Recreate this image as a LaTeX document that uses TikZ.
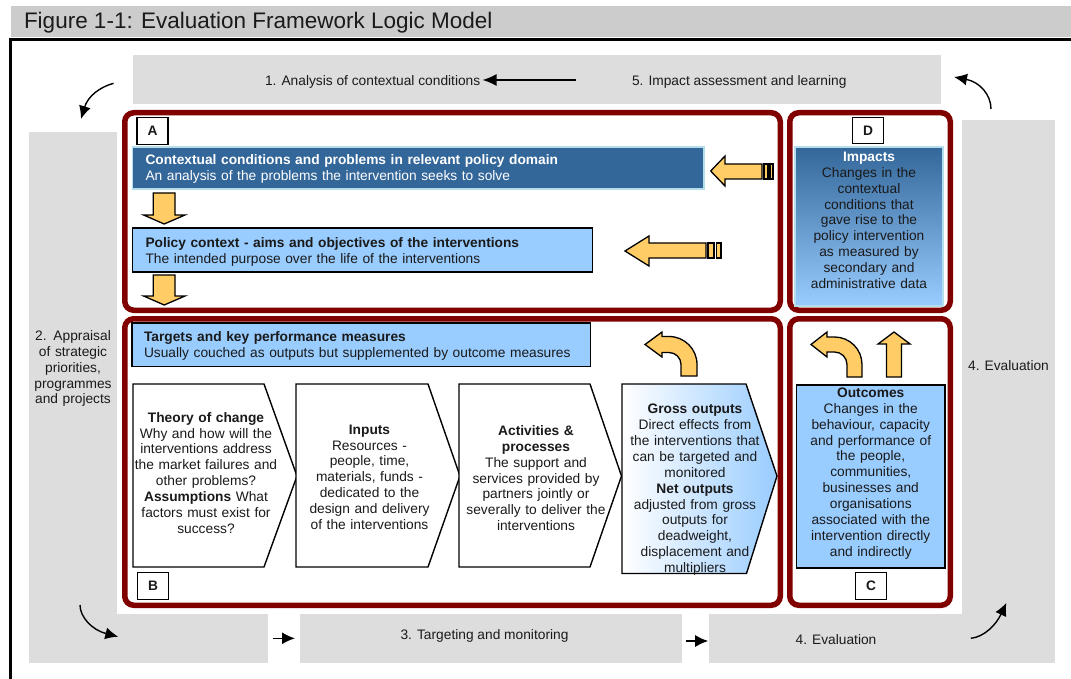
\documentclass[tikz,border=0pt]{standalone}
\usepackage{fontspec}
\setmainfont{Liberation Sans}
\usetikzlibrary{arrows.meta}
\definecolor{titlegray}{HTML}{CCCCCC}
\definecolor{bandgray}{HTML}{DDDDDD}
\definecolor{framered}{HTML}{800000}
\definecolor{deepblue}{HTML}{336699}
\definecolor{paleblue}{HTML}{99CCFF}
\definecolor{arrowgold}{HTML}{FFCC66}
\definecolor{edgecyan}{HTML}{B4DEEA}
\definecolor{inktext}{HTML}{1A1A1A}
\begin{document}
\begin{tikzpicture}[x=1pt,y=-1pt,
  every node/.style={inner sep=0pt,outer sep=0pt,text=inktext},
  body/.style={font=\fontsize{13.75}{15.85}\selectfont},
  band/.style={fill=bandgray,draw=none},
  redframe/.style={draw=framered,line width=5.5pt,rounded corners=9pt},
  tag/.style={draw=black,line width=1.4pt,fill=white,minimum width=31pt,minimum height=26.5pt,font=\fontsize{13.75}{15.85}\selectfont\bfseries},
  lightbox/.style={draw=black,line width=1.4pt,fill=paleblue,anchor=north west},
  chevron/.style={draw=black,line width=1.4pt,fill=white,line join=miter},
  goldarrow/.style={draw=black,line width=1.3pt,fill=arrowgold,line join=miter},
  blocktext/.style={body,text width=175pt,align=center,anchor=base},
  linetext/.style={body,text width=560pt,align=left,anchor=base west},
  flow/.style={draw=black,line width=1.4pt,-{Latex[length=13pt,width=12pt]}},
]
\useasboundingbox (0,0) rectangle (1071,679);
\fill[white] (0,0) rectangle (1071,679);

% heading strip and outer frame
\fill[titlegray] (11,6) rectangle (1071,37);
\node[anchor=base west,font=\fontsize{22.5}{27}\selectfont] (title) at (24,28.8) {Figure 1-1: Evaluation Framework Logic Model};
\draw[line width=2.8pt] (10.7,679) -- (10.7,39.7) -- (1071,39.7);

% grey cycle bands
\fill[band] (132.5,55) rectangle (941,104);
\fill[band] (29,132) rectangle (117,663);
\fill[band] (29,613.5) rectangle (268,663);
\fill[band] (300,613.5) rectangle (681.7,663);
\fill[band] (709.4,613.5) rectangle (1055,663);
\fill[band] (962,120) rectangle (1055,663);

\node[body,anchor=base west] (analysis) at (265,86) {1. Analysis of contextual conditions};
\node[body,anchor=base west] (impact) at (632,86) {5. Impact assessment and learning};
\node[blocktext,text width=100pt] (appraisal) at (73,340.5) {2. Appraisal\\of strategic\\priorities,\\programmes\\and projects};
\node[body,anchor=base] (evalright) at (1008.5,370.5) {4. Evaluation};
\node[body,anchor=base] (targeting) at (484.5,639.5) {3. Targeting and monitoring};
\node[body,anchor=base] (evalbottom) at (836,644) {4. Evaluation};

% red frames A, D, B, C
\draw[redframe] (124.75,112.75) rectangle (780.25,310.25);
\draw[redframe] (789.75,112.75) rectangle (950.25,310.25);
\draw[redframe] (124.75,318.75) rectangle (780.25,605.25);
\draw[redframe] (789.75,318.75) rectangle (950.25,605.25);

% panel A
\node[draw=edgecyan,line width=1.6pt,fill=deepblue,anchor=north west,minimum width=571.5pt,minimum height=42pt] (ctxbox) at (132.5,147) {};
\node[linetext,text=white] (ctxtext) at (145.5,164.5) {\textbf{Contextual conditions and problems in relevant policy domain}\\An analysis of the problems the intervention seeks to solve};
\node[lightbox,minimum width=460pt,minimum height=44pt] (polbox) at (132.5,228) {};
\node[linetext] (poltext) at (145.5,247.2) {\textbf{Policy context - aims and objectives of the interventions}\\The intended purpose over the life of the interventions};
\node[tag] (tagA) at (152.5,131) {A};

% downward block arrows
\draw[goldarrow] (153.2,193) -- (175,193) -- (175,215) -- (185,215) -- (164.2,224) -- (143.6,215) -- (153.2,215) -- cycle;
\draw[goldarrow] (153.2,275) -- (175,275) -- (175,296) -- (185,296) -- (164.2,305) -- (143.6,296) -- (153.2,296) -- cycle;

% striped arrows pointing left
\draw[goldarrow] (710.7,171) -- (725,156) -- (725,164) -- (762,164) -- (762,179) -- (725,179) -- (725,186) -- cycle;
\draw[goldarrow] (764,164) rectangle (768,179);
\draw[goldarrow] (770,164) rectangle (773,179);
\draw[goldarrow] (625,251) -- (649,236) -- (649,243) -- (706,243) -- (706,258) -- (649,258) -- (649,266) -- cycle;
\draw[goldarrow] (708,243) rectangle (714,258);
\draw[goldarrow] (716.5,243) rectangle (721,258);

% panel D
\node[draw=edgecyan,line width=1.6pt,top color=deepblue,bottom color=paleblue,anchor=north west,minimum width=148pt,minimum height=159pt] (impbox) at (795,147) {};
\node[blocktext] (imptext) at (869,161.5) {\textcolor{white}{\textbf{Impacts}}\\Changes in the\\contextual\\conditions that\\gave rise to the\\policy intervention\\as measured by\\secondary and\\administrative data};
\node[tag] (tagD) at (868,130.5) {D};

% panel B
\node[lightbox,minimum width=458.6pt,minimum height=43.5pt] (tgtbox) at (132,323) {};
\node[linetext] (tgttext) at (144,341.5) {\textbf{Targets and key performance measures}\\Usually couched as outputs but supplemented by outcome measures};

\draw[chevron] (133,384) -- (264,384) -- (297,476) -- (264,567) -- (133,567) -- cycle;
\draw[chevron] (296,384) -- (428,384) -- (460,476) -- (428,567) -- (296,567) -- cycle;
\draw[chevron] (459,384) -- (590,384) -- (621.5,476) -- (590,567) -- (459,567) -- cycle;
\draw[chevron,left color=white,right color=paleblue] (622,384) -- (746,384) -- (777,476) -- (746.5,573.5) -- (622,573.5) -- cycle;

\node[blocktext] (theory) at (206,422.2) {\textbf{Theory of change}\\Why and how will the\\interventions address\\the market failures and\\other problems?\\\textbf{Assumptions} What\\factors must exist for\\success?};
\node[blocktext] (inputs) at (369.5,434.2) {\textbf{Inputs}\\Resources -\\people, time,\\materials, funds -\\dedicated to the\\design and delivery\\of the interventions};
\node[blocktext] (activities) at (536,435.5) {\textbf{Activities \&}\\\textbf{processes}\\The support and\\services provided by\\partners jointly or\\severally to deliver the\\interventions};
\node[blocktext] (outputs) at (695,413.9) {\textbf{Gross outputs}\\Direct effects from\\the interventions that\\can be targeted and\\monitored\\\textbf{Net outputs}\\adjusted from gross\\outputs for\\deadweight,\\displacement and\\multipliers};

\draw[goldarrow] (681,376) -- (681,364.5) .. controls (681,357.9) and (675.6,352.5) .. (669,352.5) -- (662,352.5) -- (662,357) -- (645,344.5) -- (662,332) -- (662,336.5) -- (669,336.5) .. controls (684.5,336.5) and (697,349) .. (697,364.5) -- (697,376) -- cycle;
\node[tag] (tagB) at (153,586) {B};

% panel C
\draw[goldarrow] (847,377) -- (847,364.5) .. controls (847,357.6) and (841.4,352) .. (834.5,352) -- (827,352) -- (827,357) -- (811,344.5) -- (827,332) -- (827,337) -- (834.5,337) .. controls (849.7,337) and (862,349.3) .. (862,364.5) -- (862,377) -- cycle;
\draw[goldarrow] (886.5,377) -- (886.5,344) -- (878,344) -- (894,332) -- (910,344) -- (901.5,344) -- (901.5,377) -- cycle;
\node[lightbox,minimum width=148.5pt,minimum height=183pt] (outbox) at (796.5,385) {};
\node[blocktext] (outtext) at (870.75,397.5) {\textbf{Outcomes}\\Changes in the\\behaviour, capacity\\and performance of\\the people,\\communities,\\businesses and\\organisations\\associated with the\\intervention directly\\and indirectly};
\node[tag] (tagC) at (871,586) {C};

% cycle arrows
\coordinate (topfrom) at (575.5,80);
\coordinate (topto) at (482.5,80);
\draw[flow,-{Latex[length=14pt,width=12pt]}] (topfrom) -- (topto);
\coordinate (lowAfrom) at (272.7,638.3);
\coordinate (lowAto) at (295,638.3);
\draw[flow] (lowAfrom) -- (lowAto);
\coordinate (lowBfrom) at (686.4,641);
\coordinate (lowBto) at (708.2,641);
\draw[flow] (lowBfrom) -- (lowBto);

\coordinate (tlfrom) at (113.6,83.3);
\coordinate (tlto) at (81,119);
\draw[flow] (tlfrom) .. controls (100,87) and (88,96) .. (tlto);
\coordinate (trfrom) at (991,109);
\coordinate (trto) at (954,77);
\draw[flow] (trfrom) .. controls (991,95) and (980,82) .. (trto);
\coordinate (blfrom) at (80,605);
\coordinate (blto) at (118.3,636.7);
\draw[flow] (blfrom) .. controls (80,617) and (92,630) .. (blto);
\coordinate (brfrom) at (970.8,638.3);
\coordinate (brto) at (1006.4,602.7);
\draw[flow] (brfrom) .. controls (984,637) and (996,625) .. (brto);
\end{tikzpicture}
\end{document}
